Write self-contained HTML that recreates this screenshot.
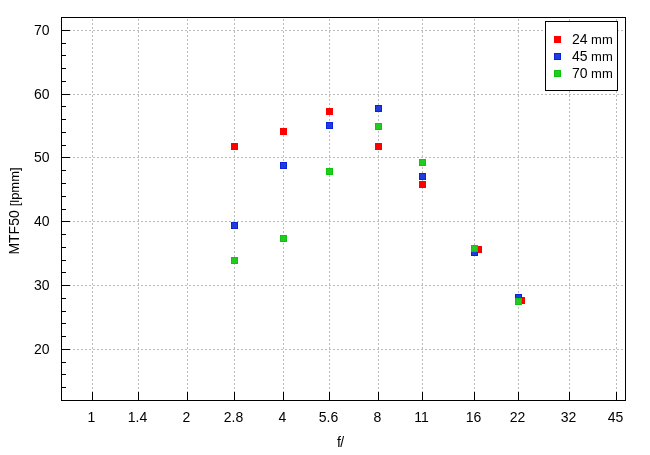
<!DOCTYPE html>
<html><head><meta charset="utf-8"><style>
html,body{margin:0;padding:0;background:#fff;}
svg{display:block;will-change:transform;}
</style></head><body>
<svg width="650" height="455" viewBox="0 0 650 455">
<rect width="650" height="455" fill="#fff"/>
<g stroke-width="1" fill="none" shape-rendering="crispEdges"><path d="M61,349.5H625" stroke="#bbbbbb" stroke-dasharray="2,2"/><path d="M61,285.5H625" stroke="#bbbbbb" stroke-dasharray="2,2"/><path d="M61,221.5H625" stroke="#bbbbbb" stroke-dasharray="2,2"/><path d="M61,157.5H625" stroke="#bbbbbb" stroke-dasharray="2,2"/><path d="M61,94.5H625" stroke="#bbbbbb" stroke-dasharray="2,2"/><path d="M61,30.5H625" stroke="#bbbbbb" stroke-dasharray="2,2"/><path d="M92.5,401V18" stroke="#bbbbbb" stroke-dasharray="2,2"/><path d="M138.5,401V18" stroke="#bbbbbb" stroke-dasharray="2,2"/><path d="M187.5,401V18" stroke="#bbbbbb" stroke-dasharray="2,2"/><path d="M234.5,401V18" stroke="#bbbbbb" stroke-dasharray="2,2"/><path d="M283.5,401V18" stroke="#bbbbbb" stroke-dasharray="2,2"/><path d="M329.5,401V18" stroke="#bbbbbb" stroke-dasharray="2,2"/><path d="M378.5,401V18" stroke="#bbbbbb" stroke-dasharray="2,2"/><path d="M422.5,401V18" stroke="#bbbbbb" stroke-dasharray="2,2"/><path d="M474.5,401V18" stroke="#bbbbbb" stroke-dasharray="2,2"/><path d="M518.5,401V18" stroke="#bbbbbb" stroke-dasharray="2,2"/><path d="M569.5,401V18" stroke="#bbbbbb" stroke-dasharray="2,2"/><path d="M616.5,401V18" stroke="#bbbbbb" stroke-dasharray="2,2"/></g><path d="M61,349.5H70M61,285.5H70M61,221.5H70M61,157.5H70M61,94.5H70M61,30.5H70M61,387.5H66M61,374.5H66M61,362.5H66M61,336.5H66M61,323.5H66M61,311.5H66M61,298.5H66M61,272.5H66M61,260.5H66M61,247.5H66M61,234.5H66M61,209.5H66M61,196.5H66M61,183.5H66M61,170.5H66M61,145.5H66M61,132.5H66M61,119.5H66M61,106.5H66M61,81.5H66M61,68.5H66M61,55.5H66M61,43.5H66M92.5,400V392M138.5,400V392M187.5,400V392M234.5,400V392M283.5,400V392M329.5,400V392M378.5,400V392M422.5,400V392M474.5,400V392M518.5,400V392M569.5,400V392M616.5,400V392M61.5,17.5H625.5V400.5H61.5Z" stroke="#000" stroke-width="1" fill="none" shape-rendering="crispEdges"/><g font-family="Liberation Sans, sans-serif" font-size="14" fill="#000"><text x="49.5" y="354" text-anchor="end">20</text><text x="49.5" y="290" text-anchor="end">30</text><text x="49.5" y="226" text-anchor="end">40</text><text x="49.5" y="162" text-anchor="end">50</text><text x="49.5" y="99" text-anchor="end">60</text><text x="49.5" y="35" text-anchor="end">70</text><text x="91.5" y="422" text-anchor="middle">1</text><text x="137.5" y="422" text-anchor="middle">1.4</text><text x="186.5" y="422" text-anchor="middle">2</text><text x="233.5" y="422" text-anchor="middle">2.8</text><text x="282.5" y="422" text-anchor="middle">4</text><text x="328.5" y="422" text-anchor="middle">5.6</text><text x="377.5" y="422" text-anchor="middle">8</text><text x="421.5" y="422" text-anchor="middle">11</text><text x="473.5" y="422" text-anchor="middle">16</text><text x="517.5" y="422" text-anchor="middle">22</text><text x="568.5" y="422" text-anchor="middle">32</text><text x="615.5" y="422" text-anchor="middle">45</text><text transform="translate(337,446.8)">f<tspan dx="-0.6">/</tspan></text><text transform="translate(19,254.6) rotate(-90)">MTF50 <tspan font-size="13">[lpmm]</tspan></text></g><g shape-rendering="crispEdges"><rect x="231.5" y="143.5" width="6" height="6" fill="#ff0000" stroke="#ff0000"/><rect x="280.5" y="128.5" width="6" height="6" fill="#ff0000" stroke="#ff0000"/><rect x="326.5" y="108.5" width="6" height="6" fill="#ff0000" stroke="#ff0000"/><rect x="375.5" y="143.5" width="6" height="6" fill="#ff0000" stroke="#ff0000"/><rect x="419.5" y="181.5" width="6" height="6" fill="#ff0000" stroke="#ff0000"/><rect x="475.5" y="246.5" width="6" height="6" fill="#ff0000" stroke="#ff0000"/><rect x="518.5" y="297.5" width="6" height="6" fill="#ff0000" stroke="#ff0000"/><rect x="231.5" y="222.5" width="6" height="6" fill="#1e3ce0" stroke="#0a22dc"/><rect x="280.5" y="162.5" width="6" height="6" fill="#1e3ce0" stroke="#0a22dc"/><rect x="326.5" y="122.5" width="6" height="6" fill="#1e3ce0" stroke="#0a22dc"/><rect x="375.5" y="105.5" width="6" height="6" fill="#1e3ce0" stroke="#0a22dc"/><rect x="419.5" y="173.5" width="6" height="6" fill="#1e3ce0" stroke="#0a22dc"/><rect x="471.5" y="249.5" width="6" height="6" fill="#1e3ce0" stroke="#0a22dc"/><rect x="515.5" y="294.5" width="6" height="6" fill="#1e3ce0" stroke="#0a22dc"/><rect x="231.5" y="257.5" width="6" height="6" fill="#22ca22" stroke="#0cc40c"/><rect x="280.5" y="235.5" width="6" height="6" fill="#22ca22" stroke="#0cc40c"/><rect x="326.5" y="168.5" width="6" height="6" fill="#22ca22" stroke="#0cc40c"/><rect x="375.5" y="123.5" width="6" height="6" fill="#22ca22" stroke="#0cc40c"/><rect x="419.5" y="159.5" width="6" height="6" fill="#22ca22" stroke="#0cc40c"/><rect x="471.5" y="245.5" width="6" height="6" fill="#22ca22" stroke="#0cc40c"/><rect x="515.5" y="298.5" width="6" height="6" fill="#22ca22" stroke="#0cc40c"/></g><rect x="545.5" y="21.5" width="72" height="69" fill="#fff" stroke="#000" shape-rendering="crispEdges"/><rect x="554.5" y="36.5" width="6" height="6" fill="#ff0000" stroke="#ff0000" shape-rendering="crispEdges"/><text x="572" y="44" font-family="Liberation Sans, sans-serif" font-size="14">24 <tspan font-size="13" x="591">m</tspan><tspan font-size="13" x="602">m</tspan></text><rect x="554.5" y="53.5" width="6" height="6" fill="#1e3ce0" stroke="#0a22dc" shape-rendering="crispEdges"/><text x="572" y="61" font-family="Liberation Sans, sans-serif" font-size="14">45 <tspan font-size="13" x="591">m</tspan><tspan font-size="13" x="602">m</tspan></text><rect x="554.5" y="70.5" width="6" height="6" fill="#22ca22" stroke="#0cc40c" shape-rendering="crispEdges"/><text x="572" y="78" font-family="Liberation Sans, sans-serif" font-size="14">70 <tspan font-size="13" x="591">m</tspan><tspan font-size="13" x="602">m</tspan></text>
</svg>
</body></html>
